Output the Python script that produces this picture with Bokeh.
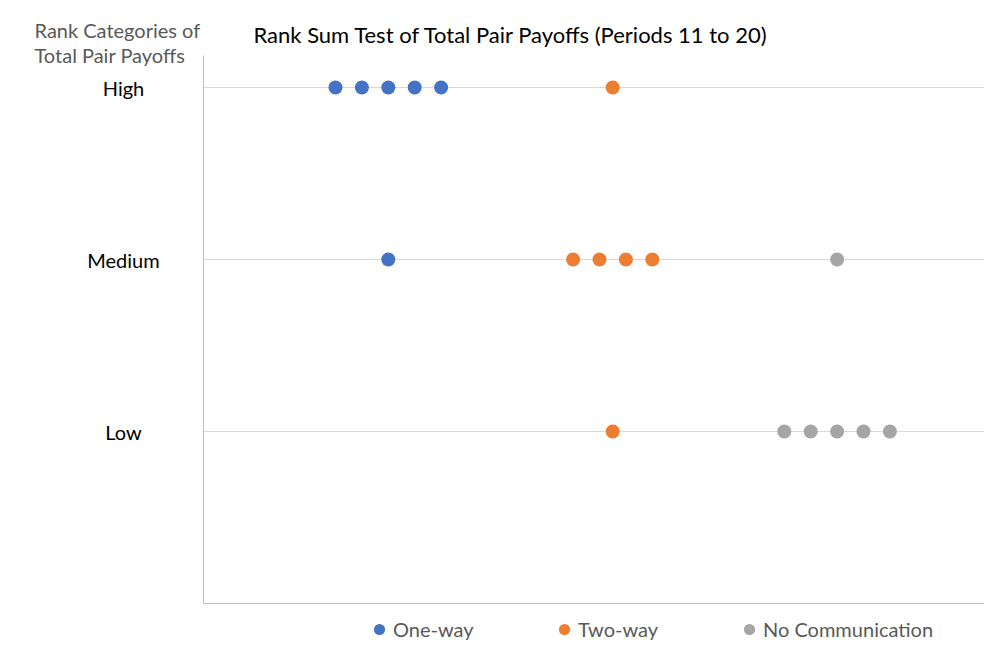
from bokeh.plotting import figure
from bokeh.models import Range1d, Label, Legend, LegendItem, Grid, FixedTicker
from bokeh.embed import file_html
from bokeh.resources import INLINE

# ---- data ----
title_text = "Rank Sum Test of Total Pair Payoffs (Periods 11 to 20)"
axis_title_lines = ["Rank Categories of", "Total Pair Payoffs"]
categories = ["Low", "Medium", "High"]
cat_level = {"Low": 1, "Medium": 2, "High": 3}
series_names = ["One-way", "Two-way", "No Communication"]
one_way_rank = [5, 6, 7, 8, 9, 7]
one_way_cat = ["High", "High", "High", "High", "High", "Medium"]
two_way_rank = [15.5, 14, 15, 16, 17, 15.5]
two_way_cat = ["High", "Medium", "Medium", "Medium", "Medium", "Low"]
no_comm_rank = [24, 22, 23, 24, 25, 26]
no_comm_cat = ["Medium", "Low", "Low", "Low", "Low", "Low"]
colors = ["#4472C4", "#ED7D31", "#A5A5A5"]

FONT = "Lato"
W, H = 984, 640
# plot-area geometry (pixels)
LEFT, TOP, BOTTOM = 203, 55, 603
PX_X = 26.4   # pixels per rank unit
PX_Y = 172.0  # pixels per category level


def X(px):
    return (px - LEFT) / PX_X


def Y(py):
    return (BOTTOM - py) / PX_Y


p = figure(width=W, height=H, output_backend="svg", toolbar_location=None,
           x_range=Range1d(X(0), X(W)), y_range=Range1d(Y(H), Y(0)),
           x_axis_location=None, y_axis_location=None, min_border=0)
p.outline_line_color = None
p.background_fill_color = "white"
p.border_fill_color = "white"
p.grid.visible = False

x_end = X(W)
y_top = Y(TOP)
grid_props = Grid.properties()
levels = [cat_level[c] for c in categories]
if "cross_bounds" in grid_props and "ticker" in grid_props:
    p.add_layout(Grid(dimension=1, ticker=FixedTicker(ticks=levels),
                      cross_bounds=(0, x_end), grid_line_color="#D9D9D9"))
    p.add_layout(Grid(dimension=1, ticker=FixedTicker(ticks=[0]),
                      cross_bounds=(0, x_end), grid_line_color="#BFBFBF"))
    p.add_layout(Grid(dimension=0, ticker=FixedTicker(ticks=[0]),
                      cross_bounds=(0, y_top), grid_line_color="#BFBFBF"))
else:
    p.segment(x0=[0] * len(levels), x1=[x_end] * len(levels), y0=levels, y1=levels,
              line_color="#D9D9D9", line_width=1)
    p.segment(x0=[0, 0], x1=[x_end, 0], y0=[0, 0], y1=[0, y_top],
              line_color="#BFBFBF", line_width=1)

# category labels (y axis)
for c in categories:
    p.add_layout(Label(x=X(123), y=cat_level[c], text=c, text_font=FONT,
                       text_font_size="20px", text_color="#000000",
                       text_align="center", text_baseline="middle"))

series = [
    (one_way_rank, one_way_cat),
    (two_way_rank, two_way_cat),
    (no_comm_rank, no_comm_cat),
]
items = []
for (ranks, cats), name, col in zip(series, series_names, colors):
    r = p.scatter(x=ranks, y=[cat_level[c] for c in cats], size=14,
                  fill_color=col, line_color=None)
    items.append(LegendItem(label=name, renderers=[r]))

legend = Legend(items=items, orientation="horizontal", location=(365, -3),
                glyph_width=28, glyph_height=28, label_standoff=0,
                label_width=157, spacing=0, padding=0, margin=0,
                border_line_color=None, background_fill_alpha=0,
                label_text_font=FONT, label_text_font_size="20px",
                label_text_color="#595959")
p.add_layout(legend, "center")

p.add_layout(Label(x=X(253), y=Y(34.3), text=title_text, text_font=FONT,
                   text_font_size="22px", text_color="#000000",
                   text_baseline="alphabetic", text_align="left"))
p.add_layout(Label(x=X(34), y=Y(29.3), text=axis_title_lines[0], text_font=FONT,
                   text_font_size="20px", text_color="#595959",
                   text_baseline="alphabetic", text_align="left"))
p.add_layout(Label(x=X(34), y=Y(54.3), text=axis_title_lines[1], text_font=FONT,
                   text_font_size="20px", text_color="#595959",
                   text_baseline="alphabetic", text_align="left"))

open("out.html", "w").write(file_html(p, INLINE))
